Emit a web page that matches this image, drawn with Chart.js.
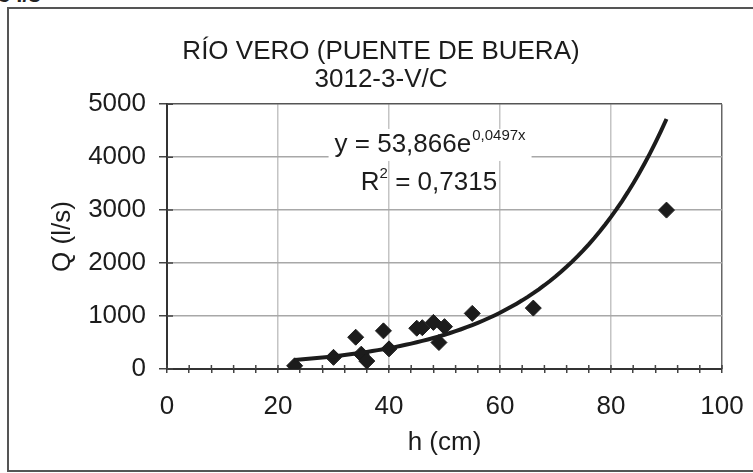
<!DOCTYPE html>
<html>
<head>
<meta charset="utf-8">
<script src="https://cdn.jsdelivr.net/npm/chart.js@4"></script>
<style>
  html, body { margin: 0; padding: 0; background: #fff; }
  #wrap { position: relative; width: 753px; height: 473px; overflow: hidden; }
  #marco { position: absolute; left: 7px; top: 7px; width: 780px; height: 461px; border: 2px solid #555; border-right: none; }
  #corte { position: absolute; left: -2px; top: -18px; font: bold 22px "Liberation Sans", Arial, sans-serif; color: #222; }
  canvas { position: absolute; left: 0; top: 0; }
</style>
</head>
<body>
<div id="wrap">
  <div id="corte">3 l/s</div>
  <div id="marco"></div>
  <canvas id="grafico" width="753" height="473"></canvas>
</div>
<script>
// aforos medidos: altura (cm) y caudal (l/s)
const alturas = [23, 30, 34, 35, 36, 39, 40, 45, 46, 48, 49, 50, 55, 66, 90];
const caudales = [60, 220, 600, 280, 150, 720, 380, 770, 780, 880, 500, 800, 1050, 1150, 3000];

// curva de ajuste exponencial (la que da la hoja)
const coefA = 53.866;
const coefB = 0.0497;
const r2 = 0.7315;
const tramoCurva = [23, 90];

const tituloLineas = ["RÍO VERO (PUENTE DE BUERA)", "3012-3-V/C"];
const ejeX = { titulo: "h (cm)", min: 0, max: 100, paso: 4, pasoEtiqueta: 20 };
const ejeY = { titulo: "Q (l/s)", min: 0, max: 5000, paso: 1000 };

// donde van los textos de la ecuacion (en unidades del grafico)
const ecuacionPos = [47.4, 4230];
const r2Pos = [47.2, 3520];

const fuente = "'Liberation Sans', Arial, sans-serif";
const tinta = "#1c1c1c";
const tam = 26;

const puntos = alturas.map((h, i) => ({ x: h, y: caudales[i] }));

const curva = [];
for (let h = tramoCurva[0]; h <= tramoCurva[1]; h += 1) {
  curva.push({ x: h, y: coefA * Math.exp(coefB * h) });
}

const coma = (n) => String(n).replace(".", ",");

const anotacion = {
  id: "anotacion",
  afterDatasetsDraw(chart) {
    const { ctx, scales: { x, y } } = chart;
    ctx.save();
    ctx.fillStyle = tinta;
    ctx.textBaseline = "middle";
    ctx.textAlign = "left";

    // y = 53,866e^0,0497x
    let cx = x.getPixelForValue(ecuacionPos[0]);
    let cy = y.getPixelForValue(ecuacionPos[1]);
    const base = "y = " + coma(coefA) + "e";
    const expo = coma(coefB) + "x";
    ctx.font = tam + "px " + fuente;
    const wBase = ctx.measureText(base).width;
    ctx.font = "15px " + fuente;
    const wExpo = ctx.measureText(expo).width;
    const total = wBase + wExpo + 1;
    ctx.fillStyle = "#fff";
    ctx.fillRect(cx - total / 2 - 6, cy - 16, total + 12, 32);
    ctx.fillStyle = tinta;
    ctx.font = tam + "px " + fuente;
    ctx.fillText(base, cx - total / 2, cy);
    ctx.font = "15px " + fuente;
    ctx.fillText(expo, cx - total / 2 + wBase + 1, cy - 9);

    // R2 = 0,7315
    cx = x.getPixelForValue(r2Pos[0]);
    cy = y.getPixelForValue(r2Pos[1]);
    const resto = " = " + coma(r2);
    ctx.font = tam + "px " + fuente;
    const wR = ctx.measureText("R").width;
    const wResto = ctx.measureText(resto).width;
    ctx.font = "15px " + fuente;
    const wDos = ctx.measureText("2").width;
    const t2 = wR + wDos + wResto;
    ctx.font = tam + "px " + fuente;
    ctx.fillText("R", cx - t2 / 2, cy);
    ctx.fillText(resto, cx - t2 / 2 + wR + wDos, cy);
    ctx.font = "15px " + fuente;
    ctx.fillText("2", cx - t2 / 2 + wR, cy - 9);
    ctx.restore();
  }
};

// las marcas de los ejes cruzan hacia dentro del area
const marcasInternas = {
  id: "marcasInternas",
  beforeDatasetsDraw(chart) {
    const { ctx, chartArea, scales: { x, y } } = chart;
    ctx.save();
    ctx.strokeStyle = "#444";
    ctx.lineWidth = 1.5;
    ctx.beginPath();
    x.ticks.forEach((t) => {
      const px = x.getPixelForValue(t.value);
      ctx.moveTo(px, chartArea.bottom);
      ctx.lineTo(px, chartArea.bottom - 4);
    });
    y.ticks.forEach((t) => {
      const py = y.getPixelForValue(t.value);
      ctx.moveTo(chartArea.left, py);
      ctx.lineTo(chartArea.left + 6, py);
    });
    ctx.stroke();
    ctx.restore();
  }
};

const config = {
  type: "scatter",
  data: {
    datasets: [
      {
        label: "ajuste",
        data: curva,
        showLine: true,
        borderColor: tinta,
        borderWidth: 4,
        pointRadius: 0,
        tension: 0
      },
      {
        label: "aforos",
        data: puntos,
        pointStyle: "rectRot",
        pointRadius: 8,
        backgroundColor: tinta,
        borderColor: tinta
      }
    ]
  },
  options: {
    responsive: false,
    animation: false,
    layout: { padding: { left: 40, right: 31, top: 0, bottom: 15 } },
    plugins: {
      legend: { display: false },
      tooltip: { enabled: false },
      title: {
        display: true,
        text: tituloLineas,
        color: tinta,
        font: { family: fuente, size: tam, weight: "normal", lineHeight: 1.08 },
        padding: { top: 38, bottom: 10 }
      }
    },
    scales: {
      x: {
        type: "linear",
        min: ejeX.min,
        max: ejeX.max,
        afterFit(s) {
          s.height = 89;
          s.paddingLeft = 0;
          s.paddingRight = 0;
        },
        ticks: {
          stepSize: ejeX.paso,
          autoSkip: false,
          maxRotation: 0,
          padding: 18,
          color: tinta,
          font: { family: fuente, size: tam },
          callback: (v) => (v % ejeX.pasoEtiqueta === 0 ? String(v) : "")
        },
        grid: {
          color: (c) => {
            const v = c.tick ? c.tick.value : 0;
            if (v === ejeX.max) return "#666";
            return v % ejeX.pasoEtiqueta === 0 && v !== 0 ? "#c4c4c4" : "transparent";
          },
          lineWidth: 1.5,
          tickLength: 4,
          tickColor: "#444"
        },
        border: { color: "#333", width: 2 },
        title: {
          display: true,
          text: ejeX.titulo,
          color: tinta,
          font: { family: fuente, size: tam },
          padding: 0
        }
      },
      y: {
        min: ejeY.min,
        max: ejeY.max,
        afterFit(s) { s.width = 127; },
        ticks: {
          stepSize: ejeY.paso,
          padding: 13,
          color: tinta,
          font: { family: fuente, size: tam },
          callback: (v) => String(v)
        },
        grid: {
          color: (c) => {
            const v = c.tick ? c.tick.value : 0;
            if (v === ejeY.max) return "#555";
            return v === 0 ? "transparent" : "#a8a8a8";
          },
          lineWidth: 1.5,
          tickLength: 8,
          tickColor: "#444"
        },
        border: { color: "#333", width: 2 },
        title: {
          display: true,
          text: ejeY.titulo,
          color: tinta,
          font: { family: fuente, size: tam },
          padding: { top: 7, bottom: 0 }
        }
      }
    }
  },
  plugins: [marcasInternas, anotacion]
};

const miGrafico = new Chart(document.querySelector("#grafico"), config);
</script>
</body>
</html>
